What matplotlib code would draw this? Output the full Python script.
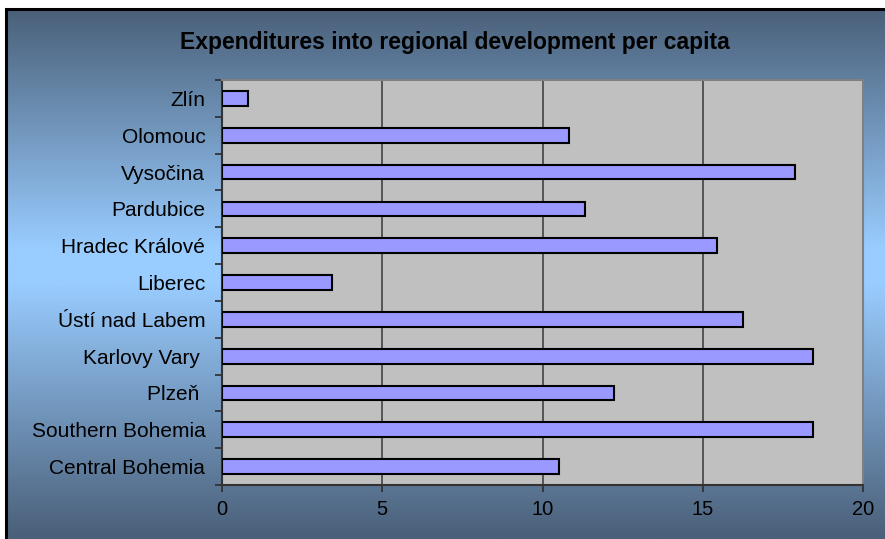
import numpy as np
import matplotlib
matplotlib.use("Agg")
import matplotlib.pyplot as plt
from matplotlib.colors import LinearSegmentedColormap
from matplotlib.patches import Rectangle

# Regions listed bottom to top
regions = ["Central Bohemia", "Southern Bohemia", "Plzeň ", "Karlovy Vary ",
           "Ústí nad Labem", "Liberec", "Hradec Králové", "Pardubice",
           "Vysočina", "Olomouc", "Zlín"]
expenditure = [10.53, 18.45, 12.22, 18.45, 16.27, 3.44, 15.45, 11.34,
               17.89, 10.84, 0.81]
x_ticks = [0, 5, 10, 15, 20]
title = "Expenditures into regional development per capita"

plt.rcParams["font.family"] = ["Liberation Sans", "DejaVu Sans"]

W, H = 885, 539
fig = plt.figure(figsize=(W / 100, H / 100), dpi=100)
fig.patch.set_facecolor("white")

# Chart area background: dark slate at top and bottom, light blue in the middle
bg = fig.add_axes([6 / W, 0, 1 - 6 / W, (H - 9) / H], zorder=0)
cmap = LinearSegmentedColormap.from_list(
    "band", [(0.0, "#4a5f78"), (0.48, "#99ccff"), (0.55, "#99ccff"), (1.0, "#4a6079")])
grad = np.linspace(0, 1, 512).reshape(-1, 1)
bg.imshow(grad, aspect="auto", cmap=cmap, extent=[0, 1, 0, 1], origin="lower")
bg.set_xlim(0, 1)
bg.set_ylim(0, 1)
bg.axis("off")
bg.add_patch(Rectangle((0, -0.2), 1.2, 1.2, transform=bg.transAxes, fill=False,
                       edgecolor="black", linewidth=2.2, clip_on=False))

ax = fig.add_axes([222 / W, 1 - 485 / H, (863 - 222) / W, (485 - 80) / H], zorder=2)
ax.set_facecolor("#c0c0c0")

y = np.arange(len(regions))
ax.barh(y, expenditure, height=0.4, color="#9999ff", edgecolor="black",
        linewidth=1.5, zorder=3)

ax.set_xlim(0, 20)
ax.set_ylim(-0.5, len(regions) - 0.5)
ax.set_xticks(x_ticks)
ax.set_xticklabels([str(t) for t in x_ticks], fontsize=14.5)
ax.xaxis.grid(True, color="#555555", linewidth=1.4, zorder=1)
ax.set_axisbelow(True)

ax.set_yticks(y)
ax.set_yticklabels(regions, fontsize=15)
ax.set_yticks(np.arange(len(regions) + 1) - 0.5, minor=True)
ax.tick_params(axis="y", which="major", length=0, pad=12)
ax.tick_params(axis="y", which="minor", length=5, width=1.3, color="#333333",
               direction="out")
ax.tick_params(axis="x", which="major", length=5, width=1.3, color="#333333",
               direction="out", pad=6)

for side in ("top", "right"):
    ax.spines[side].set_color("#808080")
    ax.spines[side].set_linewidth(1.5)
for side in ("left", "bottom"):
    ax.spines[side].set_color("#333333")
    ax.spines[side].set_linewidth(1.5)

fig.text(455 / W, 1 - 42 / H, title, ha="center", va="center",
         fontsize=16.5, fontweight="bold", color="black", zorder=5)

fig.savefig("out.png", dpi=100)
